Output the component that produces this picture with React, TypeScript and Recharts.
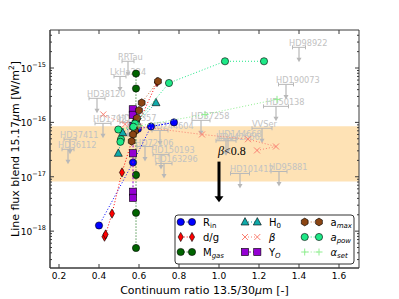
import React from "react";
import {
  ScatterChart,
  Scatter,
  XAxis,
  YAxis,
  ReferenceArea,
  ReferenceLine,
  ReferenceDot,
  ErrorBar,
} from "recharts";

type Pt = { x: number; y: number };
type Limit = { name: string; x: number; y: number; xerr: number };

// model tracks (continuum ratio, line flux in W/m^2)
const rIn: Pt[] = [
  { x: 0.4, y: 1.27e-18 },
  { x: 0.57, y: 1.83e-17 },
  { x: 0.66, y: 8.4e-17 },
  { x: 0.775, y: 1.0e-16 },
  { x: 0.595, y: 7.6e-17 },
  { x: 0.578, y: 8.2e-17 },
];
const dustGas: Pt[] = [
  { x: 0.4275, y: 7.9e-19 },
  { x: 0.433, y: 8.7e-19 },
  { x: 0.465, y: 2.1e-18 },
  { x: 0.515, y: 1.2e-17 },
  { x: 0.58, y: 7.0e-17 },
  { x: 0.69, y: 5.5e-16 },
];
const mGas: Pt[] = [
  { x: 0.585, y: 7.9e-16 },
  { x: 0.585, y: 4.2e-16 },
  { x: 0.584, y: 1.01e-16 },
  { x: 0.585, y: 1.08e-17 },
  { x: 0.585, y: 2.17e-18 },
  { x: 0.585, y: 4.9e-19 },
];
const h0: Pt[] = [
  { x: 0.685, y: 2.3e-16 },
  { x: 0.592, y: 9.8e-17 },
  { x: 0.5185, y: 6.45e-17 },
  { x: 0.4965, y: 2.7e-17 },
];
const beta: Pt[] = [
  { x: 0.4215, y: 1.4e-16 },
  { x: 0.53, y: 9.2e-17 },
  { x: 0.6, y: 8.4e-17 },
  { x: 0.915, y: 6.0e-17 },
  { x: 1.145, y: 4.9e-17 },
  { x: 1.285, y: 3.6e-17 },
  { x: 1.19, y: 3.05e-17 },
];
const yO: Pt[] = [
  { x: 0.569, y: 1.74e-16 },
  { x: 0.569, y: 1.38e-16 },
  { x: 0.572, y: 8.6e-17 },
  { x: 0.57, y: 2.7e-17 },
  { x: 0.57, y: 5.3e-18 },
  { x: 0.57, y: 4.1e-18 },
];
const aMax: Pt[] = [
  { x: 0.695, y: 5.7e-16 },
  { x: 0.6135, y: 2.3e-16 },
  { x: 0.6, y: 1.66e-16 },
  { x: 0.59, y: 1.2e-16 },
  { x: 0.585, y: 8.5e-17 },
  { x: 0.58, y: 6.9e-17 },
  { x: 0.57, y: 6.0e-17 },
  { x: 0.5635, y: 4.5e-17 },
];
const aPow: Pt[] = [
  { x: 1.225, y: 1.33e-15 },
  { x: 1.03, y: 1.33e-15 },
  { x: 0.75, y: 5.3e-16 },
  { x: 0.58, y: 9.5e-17 },
  { x: 0.5715, y: 8.3e-17 },
  { x: 0.4965, y: 7.4e-17 },
  { x: 0.51, y: 4.9e-17 },
  { x: 0.507, y: 4.4e-17 },
];
const alphaSet: Pt[] = [
  { x: 0.6, y: 8.6e-17 },
  { x: 0.93, y: 1.4e-16 },
  { x: 1.29, y: 2.65e-16 },
];

// observed upper limits
const limits: Limit[] = [
  { name: "RRTau", x: 0.545, y: 1.33e-15, xerr: 0.03 },
  { name: "LkHa224", x: 0.505, y: 7.0e-16, xerr: 0.03 },
  { name: "HD38120", x: 0.39, y: 2.77e-16, xerr: 0.04 },
  { name: "HD179218", x: 0.42, y: 9.6e-17, xerr: 0.04 },
  { name: "HD37357", x: 0.545, y: 1.0e-16, xerr: 0.04 },
  { name: "HD244604", x: 0.705, y: 7.1e-17, xerr: 0.04 },
  { name: "HD37411", x: 0.255, y: 4.9e-17, xerr: 0.03 },
  { name: "HD36112", x: 0.245, y: 3.2e-17, xerr: 0.03 },
  { name: "HD72106", x: 0.63, y: 3.6e-17, xerr: 0.04 },
  { name: "HD150193", x: 0.71, y: 2.58e-17, xerr: 0.04 },
  { name: "HD163296", x: 0.725, y: 1.76e-17, xerr: 0.04 },
  { name: "HD37258", x: 0.91, y: 1.09e-16, xerr: 0.045 },
  { name: "VVSer", x: 1.215, y: 7.8e-17, xerr: 0.05 },
  { name: "HD142666", x: 1.035, y: 4.6e-17, xerr: 0.05 },
  { name: "HD144668", x: 1.045, y: 5.1e-17, xerr: 0.045 },
  { name: "HD101412", x: 1.105, y: 1.15e-17, xerr: 0.0475 },
  { name: "HD95881", x: 1.3, y: 1.25e-17, xerr: 0.04 },
  { name: "HD50138", x: 1.285, y: 1.97e-16, xerr: 0.0625 },
  { name: "HD190073", x: 1.335, y: 5.0e-16, xerr: 0.0375 },
  { name: "HD98922", x: 1.4, y: 2.4e-15, xerr: 0.0325 },
];

const xDomain = [0.155, 1.7];
const yDomain = [2.1e-19, 5e-15];
const xTicks = [0.2, 0.4, 0.6, 0.8, 1.0, 1.2, 1.4, 1.6];
const yDecades = [1e-19, 1e-18, 1e-17, 1e-16, 1e-15];
const band = [8.2e-18, 8.5e-17];
const betaNote = { x: 0.995, y: 2.92e-17 };
const betaArrow = [
  { x: 1.0, y: 1.9e-17 },
  { x: 1.0, y: 3.4e-18 },
];

const yTicks: number[] = [];
yDecades.forEach((d) => {
  for (let k = 1; k < 10; k++) {
    const v = d * k;
    if (v >= yDomain[0] && v <= yDomain[1]) yTicks.push(v);
  }
});

const PLOT = { left: 50, right: 359, top: 30, bottom: 268 };
const FRAME = "#3a3a3a";
const GREY = "#b8b8b8";
const GREY_TXT = "#c2c2c2";

type Kind = "circle" | "diamond" | "square" | "triangle" | "hexagon" | "x" | "plus";

function marker(kind: Kind, cx: number, cy: number, color: string) {
  const edge = { stroke: "#000", strokeWidth: 0.6 };
  switch (kind) {
    case "circle":
      return <circle cx={cx} cy={cy} r={3.6} fill={color} {...edge} />;
    case "diamond":
      return (
        <polygon
          points={`${cx},${cy - 4.6} ${cx + 2.6},${cy} ${cx},${cy + 4.6} ${cx - 2.6},${cy}`}
          fill={color}
          {...edge}
        />
      );
    case "square":
      return <rect x={cx - 3.6} y={cy - 3.6} width={7.2} height={7.2} fill={color} {...edge} />;
    case "triangle":
      return (
        <polygon
          points={`${cx},${cy - 4.4} ${cx + 4},${cy + 3} ${cx - 4},${cy + 3}`}
          fill={color}
          {...edge}
        />
      );
    case "hexagon": {
      const pts = [0, 1, 2, 3, 4, 5]
        .map((i) => {
          const a = (Math.PI / 3) * i + Math.PI / 2;
          return `${cx + 3.9 * Math.cos(a)},${cy + 3.9 * Math.sin(a)}`;
        })
        .join(" ");
      return <polygon points={pts} fill={color} {...edge} />;
    }
    case "x":
      return (
        <g stroke={color} strokeWidth={1}>
          <line x1={cx - 3} y1={cy - 3} x2={cx + 3} y2={cy + 3} />
          <line x1={cx - 3} y1={cy + 3} x2={cx + 3} y2={cy - 3} />
        </g>
      );
    default:
      return (
        <g stroke={color} strokeWidth={1}>
          <line x1={cx - 3.5} y1={cy} x2={cx + 3.5} y2={cy} />
          <line x1={cx} y1={cy - 3.5} x2={cx} y2={cy + 3.5} />
        </g>
      );
  }
}

const sub = (s: string, italic = false) => (
  <tspan dy={2.5} fontSize={7} fontStyle={italic ? "italic" : "normal"}>
    {s}
  </tspan>
);

const series: {
  key: string;
  data: Pt[];
  kind: Kind;
  color: string;
  lineColor?: string;
  dash: string;
  label: React.ReactNode;
}[] = [
  { key: "rin", data: rIn, kind: "circle", color: "#0000ff", dash: "1 2", label: <>R{sub("in")}</> },
  { key: "dg", data: dustGas, kind: "diamond", color: "#ff0000", dash: "1 2", label: <>d/g</> },
  { key: "mgas", data: mGas, kind: "circle", color: "#006400", dash: "1 2", label: <>M{sub("gas", true)}</> },
  { key: "h0", data: h0, kind: "triangle", color: "#10aaaa", dash: "1 2", label: <>H{sub("0")}</> },
  {
    key: "beta",
    data: beta,
    kind: "x",
    color: "#fa8072",
    dash: "1 2",
    label: <tspan fontStyle="italic">β</tspan>,
  },
  { key: "yo", data: yO, kind: "square", color: "#9400d3", dash: "2 2", label: <>Y{sub("O", true)}</> },
  {
    key: "amax",
    data: aMax,
    kind: "hexagon",
    color: "#8b4513",
    lineColor: "#c0703a",
    dash: "1 2",
    label: <>a{sub("max", true)}</>,
  },
  {
    key: "apow",
    data: aPow,
    kind: "circle",
    color: "#1ee887",
    dash: "1 2",
    label: (
      <>
        <tspan fontStyle="italic">a</tspan>
        {sub("pow", true)}
      </>
    ),
  },
  {
    key: "aset",
    data: alphaSet,
    kind: "plus",
    color: "#90ee90",
    dash: "1 2",
    label: (
      <>
        <tspan fontStyle="italic">α</tspan>
        {sub("set", true)}
      </>
    ),
  },
];

function LimitMark(p: any) {
  const { cx, cy, payload } = p;
  if (cx == null || cy == null) return null;
  return (
    <g>
      <line x1={cx} y1={cy} x2={cx} y2={cy + 12} stroke={GREY} strokeWidth={1.2} />
      <polygon points={`${cx - 2.5},${cy + 10.5} ${cx + 2.5},${cy + 10.5} ${cx},${cy + 15}`} fill={GREY} />
      <text x={cx - 10} y={cy - 4} fontSize={8.2} fill={GREY_TXT} dominantBaseline="central">
        {payload.name}
      </text>
    </g>
  );
}

function YTick(p: any) {
  const v = p.payload.value;
  const lg = Math.log10(v);
  const e = Math.round(lg);
  const major = Math.abs(lg - e) < 1e-6;
  const len = major ? 4 : 2;
  return (
    <g>
      <line x1={PLOT.left} x2={PLOT.left + len} y1={p.y} y2={p.y} stroke={FRAME} />
      <line x1={PLOT.right} x2={PLOT.right - len} y1={p.y} y2={p.y} stroke={FRAME} />
      {major && (
        <text x={PLOT.left - 4} y={p.y + 1} textAnchor="end" dominantBaseline="central" fontSize={9} fill="#000">
          10
          <tspan dy={-4} fontSize={6.5}>{`\u2212${-e}`}</tspan>
        </text>
      )}
    </g>
  );
}

function XTick(p: any) {
  return (
    <g>
      <line x1={p.x} x2={p.x} y1={PLOT.bottom} y2={PLOT.bottom - 4} stroke={FRAME} />
      <line x1={p.x} x2={p.x} y1={PLOT.top} y2={PLOT.top + 4} stroke={FRAME} />
      <text x={p.x} y={PLOT.bottom + 8} textAnchor="middle" dominantBaseline="central" fontSize={9} fill="#000">
        {Number(p.payload.value).toFixed(1)}
      </text>
    </g>
  );
}

function ChartLegend() {
  const colX = [
    [6.7, 18, 29],
    [71, 83.3, 95],
    [130.7, 145, 156.5],
  ];
  const rowY = [8, 23, 38];
  return (
    <svg
      width={181}
      height={51}
      style={{ position: "absolute", left: 174, top: 214 }}
    >
      <rect x={1} y={1} width={179} height={49} rx={3} fill="#fff" stroke="#333" strokeWidth={1} />
      {series.map((s, i) => {
        const c = colX[Math.floor(i / 3)];
        const y = rowY[i % 3];
        return (
          <g key={s.key}>
            <line
              x1={c[0]}
              x2={c[1]}
              y1={y}
              y2={y}
              stroke={s.lineColor ?? s.color}
              strokeDasharray={s.dash}
            />
            {marker(s.kind, c[0], y, s.color)}
            {marker(s.kind, c[1], y, s.color)}
            <text x={c[2]} y={y + 3.5} fontSize={10} fill="#000">
              {s.label}
            </text>
          </g>
        );
      })}
    </svg>
  );
}

export default function App() {
  return (
    <div
      style={{
        position: "absolute",
        left: 0,
        top: 0,
        width: 399,
        height: 299,
        background: "#fff",
        fontFamily: "DejaVu Sans",
      }}
    >
      <ScatterChart width={399} height={299} margin={{ top: 30, right: 40, bottom: 0, left: 0 }}>
        <XAxis
          type="number"
          dataKey="x"
          domain={xDomain}
          allowDataOverflow
          ticks={xTicks}
          interval={0}
          height={31}
          tickLine={false}
          axisLine={{ stroke: FRAME }}
          tick={<XTick />}
          label={(props: any) => {
            const vb = props.viewBox || { x: 50, y: 268, width: 309 };
            return (
              <text x={vb.x + vb.width / 2} y={vb.y + 22} textAnchor="middle" dominantBaseline="central" fontSize={11} fill="#000">
                Continuum ratio 13.5/30<tspan fontStyle="italic">μ</tspan>m [-]
              </text>
            );
          }}
        />
        <YAxis
          type="number"
          dataKey="y"
          scale="log"
          domain={yDomain}
          allowDataOverflow
          ticks={yTicks}
          interval={0}
          width={50}
          tickLine={false}
          axisLine={{ stroke: FRAME }}
          tick={<YTick />}
          label={(props: any) => {
            const vb = props.viewBox || { x: 0, y: 30, height: 238 };
            const cy = vb.y + vb.height / 2;
            return (
              <text
                x={15}
                y={cy}
                transform={`rotate(-90 15 ${cy})`}
                textAnchor="middle"
                dominantBaseline="central"
                fontSize={11}
                fill="#000"
              >
                Line flux blend 15.17<tspan fontStyle="italic">μ</tspan>m [W/m
                <tspan dy={-4} fontSize={7.5}>2</tspan>
                <tspan dy={4}>]</tspan>
              </text>
            );
          }}
        />
        <ReferenceArea y1={band[0]} y2={band[1]} fill="#fee2b5" fillOpacity={1} stroke="none" />
        <Scatter data={limits} fill={GREY} isAnimationActive={false} shape={LimitMark}>
          <ErrorBar dataKey="xerr" direction="x" width={2} stroke={GREY} strokeWidth={1} />
        </Scatter>
        {series.map((s) => (
          <Scatter
            key={s.key}
            data={s.data}
            fill={s.color}
            isAnimationActive={false}
            line={{ stroke: s.lineColor ?? s.color, strokeWidth: 1, strokeDasharray: s.dash }}
            shape={(p: any) => marker(s.kind, p.cx, p.cy, s.color)}
          />
        ))}
        <ReferenceDot
          x={betaNote.x}
          y={betaNote.y}
          r={0}
          shape={(p: any) => (
            <text x={p.cx} y={p.cy} dominantBaseline="central" fontSize={12} fontFamily="Liberation Serif" fill="#000">
              <tspan fontStyle="italic">β</tspan>&lt;0.8
            </text>
          )}
        />
        <ReferenceLine
          segment={betaArrow}
          shape={(p: any) => (
            <g>
              <line x1={p.x1} y1={p.y1} x2={p.x2} y2={p.y2 - 5} stroke="#000" strokeWidth={3} />
              <polygon points={`${p.x2 - 4.5},${p.y2 - 6} ${p.x2 + 4.5},${p.y2 - 6} ${p.x2},${p.y2}`} fill="#000" />
            </g>
          )}
        />
        <ReferenceArea
          x1={xDomain[0]}
          x2={xDomain[1]}
          y1={yDomain[0]}
          y2={yDomain[1]}
          fill="none"
          stroke={FRAME}
          strokeWidth={1}
        />
      </ScatterChart>
      <ChartLegend />
    </div>
  );
}
